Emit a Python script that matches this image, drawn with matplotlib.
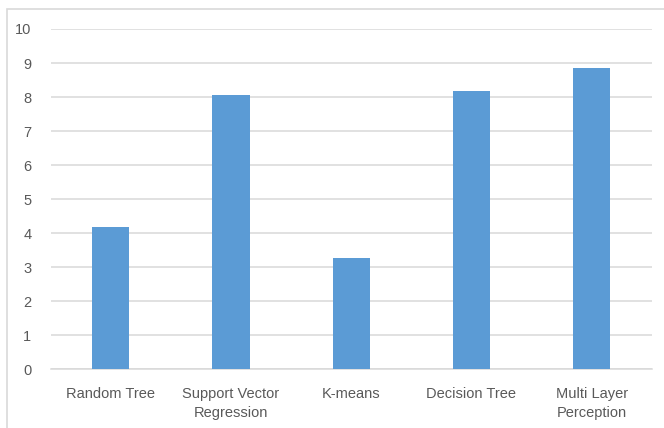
import matplotlib
matplotlib.use('Agg')
import matplotlib.pyplot as plt
from matplotlib.patches import Rectangle

categories = ['Random Tree', 'Support Vector\nRegression', 'K-means',
              'Decision Tree', 'Multi Layer\nPerception']
scores = [4.18, 8.07, 3.28, 8.18, 8.84]
y_ticks = list(range(0, 11))

plt.rcParams['font.family'] = ['Liberation Sans', 'DejaVu Sans']

fig = plt.figure(figsize=(6.64, 4.28), dpi=100)
fig.patch.set_facecolor('white')

# light frame around the chart area (cut off at right and bottom)
fig.patches.append(Rectangle((7 / 664, -0.05), 1.1, 1 - 9 / 428 + 0.05,
                             transform=fig.transFigure, fill=False,
                             edgecolor='#D9D9D9', linewidth=1.2))

ax = fig.add_axes([50.7 / 664, 58.7 / 428, 601 / 664, 340.3 / 428])
x = range(len(categories))
ax.bar(x, scores, width=0.31, color='#5B9BD5', zorder=3)

ax.set_xlim(-0.5, len(categories) - 0.5)
ax.set_ylim(0, 10)
ax.set_yticks(y_ticks)
ax.set_xticks(list(x))
ax.set_xticklabels(categories, linespacing=1.45)
ax.yaxis.grid(True, color='#D9D9D9', linewidth=1.1, zorder=0)
ax.set_axisbelow(True)

for side in ['top', 'right', 'left']:
    ax.spines[side].set_visible(False)
ax.spines['bottom'].set_color('#D9D9D9')
ax.spines['bottom'].set_linewidth(1.1)

ax.tick_params(axis='both', length=0, colors='#595959', labelsize=10.5)
ax.tick_params(axis='y', pad=14)
ax.tick_params(axis='x', pad=13)

fig.savefig('out.png', dpi=100, facecolor='white')
